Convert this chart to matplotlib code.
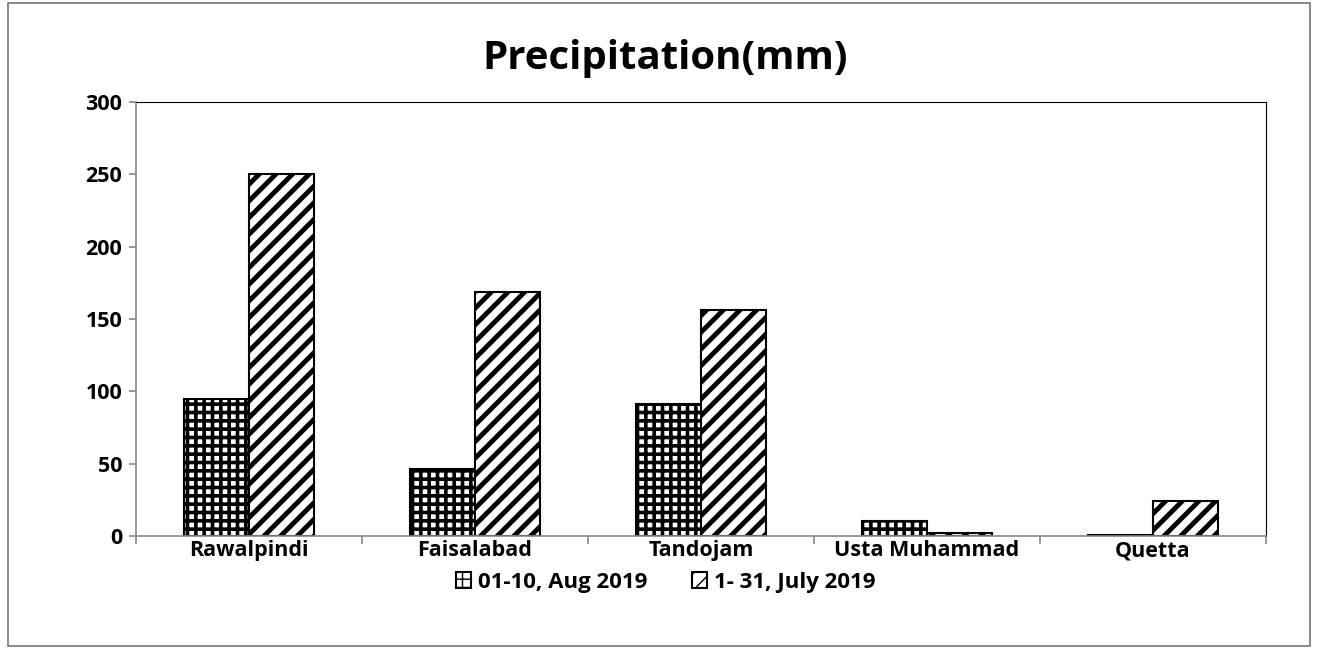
import matplotlib
matplotlib.use("Agg")
import numpy as np
import matplotlib.pyplot as plt
from matplotlib.patches import Rectangle

plt.rcParams['font.family'] = ['Open Sans', 'DejaVu Sans']
plt.rcParams['font.weight'] = 'bold'

cities = ['Rawalpindi', 'Faisalabad', 'Tandojam', 'Usta Muhammad', 'Quetta']
aug_2019 = [94.5, 46, 91, 10.5, 1]
july_2019 = [250, 169, 156, 2, 24]
series_names = ['01-10, Aug 2019', '1- 31, July 2019']
yticks = [0, 50, 100, 150, 200, 250, 300]

fig = plt.figure(figsize=(13.18, 6.49), dpi=100)
ax = fig.add_axes([0.1032, 0.1741, 0.8573, 0.6687])

x = np.arange(len(cities))
w = 0.2875
b1 = ax.bar(x - w / 2, aug_2019, w, color='white', edgecolor='black',
            linewidth=1.5, hatch='++', label=series_names[0])
b2 = ax.bar(x + w / 2, july_2019, w, color='white', edgecolor='black',
            linewidth=1.5, hatch='//', label=series_names[1])
for p in b1:
    p.set_hatch_linewidth(2.6)
for p in b2:
    p.set_hatch_linewidth(3.5)

ax.set_xlim(-0.5, len(cities) - 0.5)
ax.set_ylim(0, 300)
ax.set_yticks(yticks)
ax.set_xticks(x)
ax.set_xticklabels(cities, fontsize=15.5, fontweight='bold')
ax.set_xticks(np.arange(len(cities) + 1) - 0.5, minor=True)
ax.tick_params(axis='x', which='major', length=0, pad=3)
ax.tick_params(axis='x', which='minor', length=6, color='#888888', width=1.2)
ax.tick_params(axis='y', length=5, color='#888888', width=1.2, labelsize=15.5, pad=5)
for lab in ax.get_yticklabels():
    lab.set_fontweight('bold')

ax.spines['left'].set_color('#888888')
ax.spines['bottom'].set_color('#888888')
ax.spines['left'].set_linewidth(1.2)
ax.spines['bottom'].set_linewidth(1.2)
ax.spines['top'].set_color('black')
ax.spines['right'].set_color('black')

fig.text(0.505, 0.91, 'Precipitation(mm)', ha='center', va='center',
         fontsize=29, fontweight='bold')

leg = fig.legend(handles=[b1, b2], loc='center', bbox_to_anchor=(0.505, 0.103),
                 ncol=2, frameon=False, fontsize=16, handlelength=0.7,
                 handleheight=0.7, handletextpad=0.3, columnspacing=2.0)

fig.patches.append(Rectangle((0.006, 0.004), 0.988, 0.992, transform=fig.transFigure,
                             fill=False, edgecolor='#777777', linewidth=1.2))

fig.savefig('out.png', dpi=100)
